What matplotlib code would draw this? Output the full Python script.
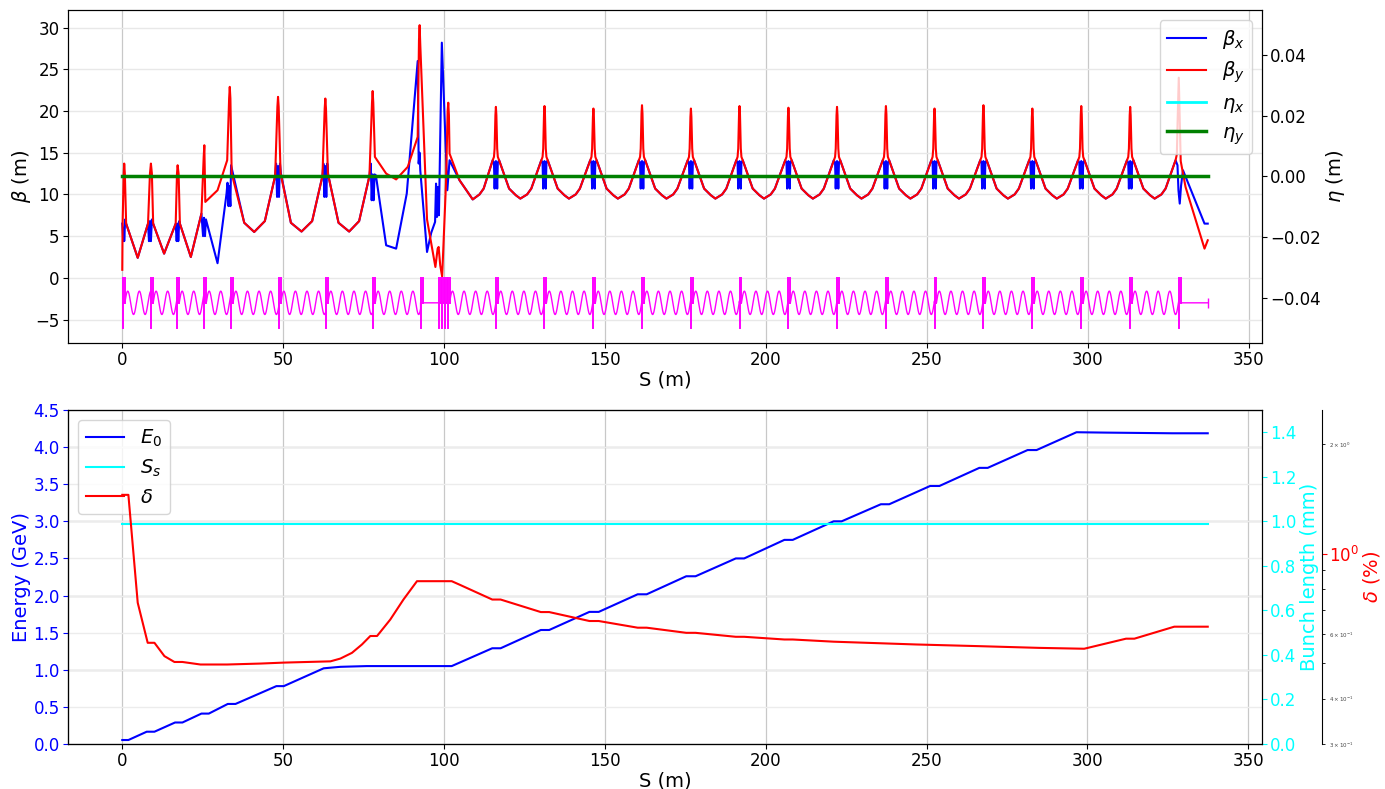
import numpy as np
import matplotlib
matplotlib.use('Agg')
import matplotlib.pyplot as plt

# ---- top panel: optics -------------------------------------------------
# first (matching) section
bx_s1 = [0.0, 0.3, 0.5, 0.6, 0.9, 1.2, 4.8, 8.0, 8.3, 8.6, 8.9, 9.2, 9.6, 13.0,
         16.6, 16.9, 17.2, 17.4, 17.7, 17.9, 21.3, 24.6, 25.1, 25.4, 25.7, 26.0,
         29.6, 32.4, 32.7, 33.0, 33.3, 33.6, 33.8, 37.9, 41.0, 44.3, 47.5, 47.8,
         48.1, 48.4, 48.7, 49.0, 49.3, 52.4, 55.7, 59.0, 62.2, 62.5, 62.8, 63.1,
         63.4, 63.7, 64.0, 67.2, 70.5, 73.6, 76.8, 77.2, 77.5, 77.8, 78.1, 78.4,
         78.8, 82.0, 85.1, 88.4, 91.8, 92.1, 92.4, 92.6, 94.7, 96.0, 97.2, 97.5,
         97.8, 98.1, 98.4, 99.3, 101.0, 101.7, 104.8, 108.9, 111.0, 112.3]
bx_1 = [6.5, 4.4, 6.0, 4.4, 7.0, 6.5, 2.4, 6.5, 4.4, 6.8, 4.4, 7.0, 6.5, 2.9,
        6.5, 4.4, 6.5, 4.4, 6.8, 6.5, 2.5, 7.7, 5.0, 7.2, 5.0, 7.0,
        1.75, 10.1, 11.4, 8.6, 11.0, 8.6, 13.5, 6.6, 5.5, 6.8, 12.2, 13.7,
        9.7, 13.4, 9.7, 13.7, 12.5, 6.6, 5.55, 6.8, 12.2, 13.7, 9.7, 13.4,
        9.7, 13.7, 12.3, 6.6, 5.55, 6.8, 12.2, 13.7, 9.3, 12.4, 9.3, 12.4,
        12.3, 3.9, 3.5, 10.1, 26.0, 13.7, 15.0, 12.9, 3.1, 5.4, 6.7, 11.3,
        7.3, 10.9, 7.5, 28.2, 10.5, 14.1, 11.7, 9.4, 10.0, 10.7]

by_s1 = [0.0, 0.1, 0.45, 0.6, 0.8, 1.2, 4.8, 8.0, 8.6, 8.9, 9.2, 9.6, 13.0,
         16.6, 17.0, 17.2, 17.5, 17.9, 21.3, 24.6, 25.3, 25.5, 25.8, 29.6, 32.6,
         33.2, 33.4, 33.6, 34.0, 37.9, 41.0, 44.3, 47.5, 48.2, 48.4, 48.6, 49.2,
         52.4, 55.7, 59.0, 62.2, 62.9, 63.1, 63.3, 63.9, 67.2, 70.5, 73.6, 76.8,
         77.6, 77.8, 78.0, 78.5, 82.0, 85.1, 88.7, 91.8, 92.2, 92.4, 92.6, 94.7,
         97.3, 98.0, 98.3, 98.8, 99.4, 100.6, 101.1, 101.3, 101.5, 101.7, 104.8,
         108.9, 111.0, 112.3]
by_1 = [0.96, 6.5, 12.5, 13.7, 12.5, 6.5, 2.4, 6.5, 12.5, 13.7, 12.5, 6.5, 2.9,
        6.5, 12.5, 13.5, 12.5, 6.5, 2.5, 7.7, 14.5, 15.9, 9.1, 10.5, 14.1,
        21.5, 22.9, 21.5, 12.5, 6.6, 5.5, 6.8, 12.2, 20.5, 21.7, 20.5, 12.5,
        6.6, 5.55, 6.8, 12.2, 20.3, 21.5, 20.3, 12.5, 6.6, 5.55, 6.8, 12.2,
        21.0, 22.4, 21.0, 14.5, 12.5, 11.8, 13.3, 16.9, 28.5, 30.3, 28.0, 7.0,
        1.3, 3.5, 3.7, 1.5, 0.15, 11.4, 20.0, 21.0, 19.5, 14.9, 11.7,
        9.4, 10.0, 10.7]

# periodic cells (centre of the beta_y spike and its height)
cell_centers = [116.1, 131.2, 146.4, 161.5, 176.7, 191.8, 207.0, 222.1,
                237.3, 252.4, 267.6, 282.8, 298.0, 313.2]
cell_peaks = [20.5, 20.6, 20.3, 20.7, 20.3, 20.6, 20.4, 20.5,
              20.6, 20.3, 20.7, 20.3, 20.6, 20.5]
cell_off = [-1.0, -0.6, -0.4, -0.15, 0.0, 0.15, 0.4, 0.6, 1.0, 4.1, 6.2, 7.6, 9.7, 11.0]
cell_bx = [14.1, 13.8, 10.7, 13.8, 14.0, 13.8, 10.7, 13.8, 14.1, 10.7, 9.9, 9.5, 10.0, 10.7]
cell_by = [14.1, 14.5, 15.5, 19.5, 20.5, 19.5, 15.5, 14.5, 14.1, 10.7, 9.9, 9.5, 10.0, 10.7]
spike_idx = [3, 4, 5]

# last cell + end of line
bx_s_end = [327.3, 327.9, 328.2, 328.6, 329.0, 329.6, 336.3, 337.3]
bx_end = [14.1, 13.5, 10.5, 8.9, 11.0, 12.9, 6.5, 6.5]
by_s_end = [327.3, 327.7, 327.95, 328.3, 328.6, 328.9, 330.4, 336.3, 337.3]
by_end = [14.1, 14.8, 19.0, 24.0, 19.0, 14.0, 10.9, 3.5, 4.5]

eta_s = [0.0, 337.3]
eta_x = [0.0, 0.0]
eta_y = [0.0, 0.0]

# lattice layout (quadrupole positions, drift spans without cavities)
quad_s = [0.2, 9.0, 17.1, 25.5, 33.8, 48.7, 63.3, 78.0, 92.7,
          98.4, 99.3, 100.2, 101.1] + cell_centers + [328.5]
drift_spans = [(92.7, 98.4)]
lattice_end = 337.3

# ---- bottom panel ------------------------------------------------------
E_s = [0, 1.9, 7.6, 10.0, 16.4, 18.7, 24.6, 26.9, 32.8, 35.2, 47.9, 50.2, 62.6,
       67.8, 76.0, 102.4, 115.0, 117.6, 130.1, 132.7, 145.2, 148.1, 160.2, 163.0,
       175.3, 178.2, 190.7, 193.3, 205.8, 208.4, 221.1, 223.6, 235.8, 238.4,
       251.1, 254.0, 266.4, 269.0, 281.4, 284.2, 296.6, 305.7, 326.4, 337.4]
E0 = [0.054, 0.054, 0.166, 0.166, 0.29, 0.29, 0.41, 0.41, 0.54, 0.54, 0.78, 0.78,
      1.02, 1.04, 1.05, 1.05, 1.29, 1.29, 1.536, 1.536, 1.78, 1.78, 2.017, 2.017,
      2.26, 2.26, 2.50, 2.50, 2.75, 2.75, 3.0, 3.0, 3.23, 3.23, 3.476, 3.476,
      3.72, 3.72, 3.96, 3.96, 4.20, 4.195, 4.186, 4.186]

bl_s = [0, 337.4]
bunch_len = [0.99, 0.99]

d_s = [0, 1.9, 4.8, 7.9, 10.0, 13.1, 16.2, 18.7, 24.3, 32.6, 43.0, 50.2, 64.7,
       67.8, 71.4, 74.5, 77.1, 79.2, 83.3, 87.4, 91.6, 102.4, 104.8, 115.0,
       117.6, 130.1, 132.7, 145.2, 148.1, 160.2, 163.0, 175.3, 178.2, 190.7,
       193.3, 205.8, 208.4, 221.1, 246.7, 266.4, 285.0, 299.0, 312.0, 314.6,
       327.0, 337.4]
delta = [1.45, 1.45, 0.733, 0.569, 0.569, 0.523, 0.504, 0.504, 0.496, 0.496,
         0.499, 0.502, 0.506, 0.515, 0.534, 0.563, 0.594, 0.594, 0.659, 0.748,
         0.84, 0.84, 0.822, 0.748, 0.748, 0.691, 0.691, 0.653, 0.653, 0.626,
         0.626, 0.606, 0.606, 0.591, 0.591, 0.581, 0.581, 0.573, 0.563, 0.557,
         0.551, 0.548, 0.584, 0.584, 0.630, 0.630]

energy_ticks = np.arange(0, 4.51, 0.5)

# assemble the beta functions
sx, bx = list(bx_s1), list(bx_1)
sy, by = list(by_s1), list(by_1)
for c, pk in zip(cell_centers, cell_peaks):
    for i, o in enumerate(cell_off):
        sx.append(c + o)
        bx.append(cell_bx[i])
        sy.append(c + o)
        by.append(cell_by[i] + (pk - 20.5 if i in spike_idx else 0.0))
sx += bx_s_end
bx += bx_end
sy += by_s_end
by += by_end

# lattice drawing: quads as bars, cavities as a sine
lat_x, lat_y = [], []
quad_x, quad_y = [], []
for i, p in enumerate(quad_s):
    quad_x += [p, p, np.nan, p + 0.6, p + 0.6, np.nan]
    quad_y += [-6, 0, np.nan, -3, 0, np.nan]
    nxt = quad_s[i + 1] if i + 1 < len(quad_s) else lattice_end
    a, b = p, nxt
    is_drift = any(abs(a - d0) < 0.01 for d0, _ in drift_spans) or i + 1 == len(quad_s)
    if is_drift or b - a < 2.0:
        lat_x += [a, b]
        lat_y += [-3, -3]
    else:
        xx = np.linspace(a + 0.6, b, int((b - a) * 25))
        lat_x += [a, a + 0.6] + list(xx)
        lat_y += [-3, -3] + list(-3 + 1.4 * np.sin(2 * np.pi * (xx - a - 0.6) / 3.6))

fig = plt.figure(figsize=(13.85, 7.89), dpi=100)
ax1 = fig.add_axes([0.0491, 0.5653, 0.8621, 0.4220])
ax2 = ax1.twinx()

ax1.plot(sx, bx, color='blue', lw=1.5, label=r'$\beta_x$')
ax1.plot(sy, by, color='red', lw=1.5, label=r'$\beta_y$')
ax1.plot(lat_x, lat_y, color='magenta', lw=1.0)
ax1.plot(quad_x, quad_y, color='magenta', lw=1.4)
ax1.plot([lattice_end], [-3], marker='|', color='magenta', ms=7)
ax2.plot(eta_s, eta_x, color='cyan', lw=2.0, label=r'$\eta_x$')
ax2.plot(eta_s, eta_y, color='green', lw=2.5, label=r'$\eta_y$')
ax2.set_ylim(-0.055, 0.055)

ax1.set_axisbelow(True)
ax1.grid(True, axis='x', color='#c8c8c8', lw=0.9)
ax1.grid(True, axis='y', color='#e8e8e8', lw=1.0)
ax1.set_xlabel('S (m)', fontsize=14, labelpad=1)
ax1.set_ylabel(r'$\beta$ (m)', fontsize=14, labelpad=2)
ax2.set_ylabel(r'$\eta$ (m)', fontsize=14, labelpad=2)
ax1.tick_params(labelsize=12, pad=2.5)
ax2.tick_params(labelsize=12, pad=2.5)

h1, l1 = ax1.get_legend_handles_labels()
h2, l2 = ax2.get_legend_handles_labels()
ax2.legend(h1 + h2, l1 + l2, loc='upper right', fontsize=14, labelspacing=0.45)

# ---- bottom
axb = fig.add_axes([0.0491, 0.0570, 0.8621, 0.4234])
axb2 = axb.twinx()
axb3 = axb.twinx()
axb3.spines['right'].set_position(('axes', 1.05))

lE, = axb.plot(E_s, E0, color='blue', lw=1.5, label=r'$E_0$')
lS, = axb2.plot(bl_s, bunch_len, color='cyan', lw=1.5, label=r'$S_s$')
lD, = axb3.plot(d_s, delta, color='red', lw=1.5, label=r'$\delta$')

axb.set_ylim(0, 4.5)
axb.set_yticks(energy_ticks)
axb2.set_ylim(0, 1.5)
axb3.set_yscale('log')
axb3.set_ylim(0.30, 2.48)

axb.set_axisbelow(True)
axb.grid(True, axis='x', color='#c8c8c8', lw=0.9)
axb.grid(True, axis='y', color='#ececec', lw=1.0)
for v in energy_ticks:
    if v % 1 == 0 and 0 < v < 4.5:
        axb.axhline(v, color='#bdbdbd', lw=1.0, zorder=0)

axb.set_xlabel('S (m)', fontsize=14, labelpad=1)
axb.set_ylabel('Energy (GeV)', fontsize=14, color='blue', labelpad=2)
axb2.set_ylabel('Bunch length (mm)', fontsize=14, color='cyan', labelpad=2)
axb3.set_ylabel(r'$\delta$ (%)', fontsize=14, color='red')
axb3.yaxis.set_label_coords(1.083, 0.5)
axb.tick_params(axis='x', labelsize=12, pad=2.5)
axb.tick_params(axis='y', labelsize=12, colors='blue', pad=2.5)
axb2.tick_params(axis='y', labelsize=12, colors='cyan', pad=2.5)
axb3.tick_params(axis='y', which='major', labelsize=12, colors='red', pad=2)
axb3.tick_params(axis='y', which='minor', labelsize=4, labelcolor='#444444')

axb.legend([lE, lS, lD], [r'$E_0$', r'$S_s$', r'$\delta$'], loc='upper left',
           fontsize=14, labelspacing=0.45)

fig.savefig('out.png', dpi=100)
